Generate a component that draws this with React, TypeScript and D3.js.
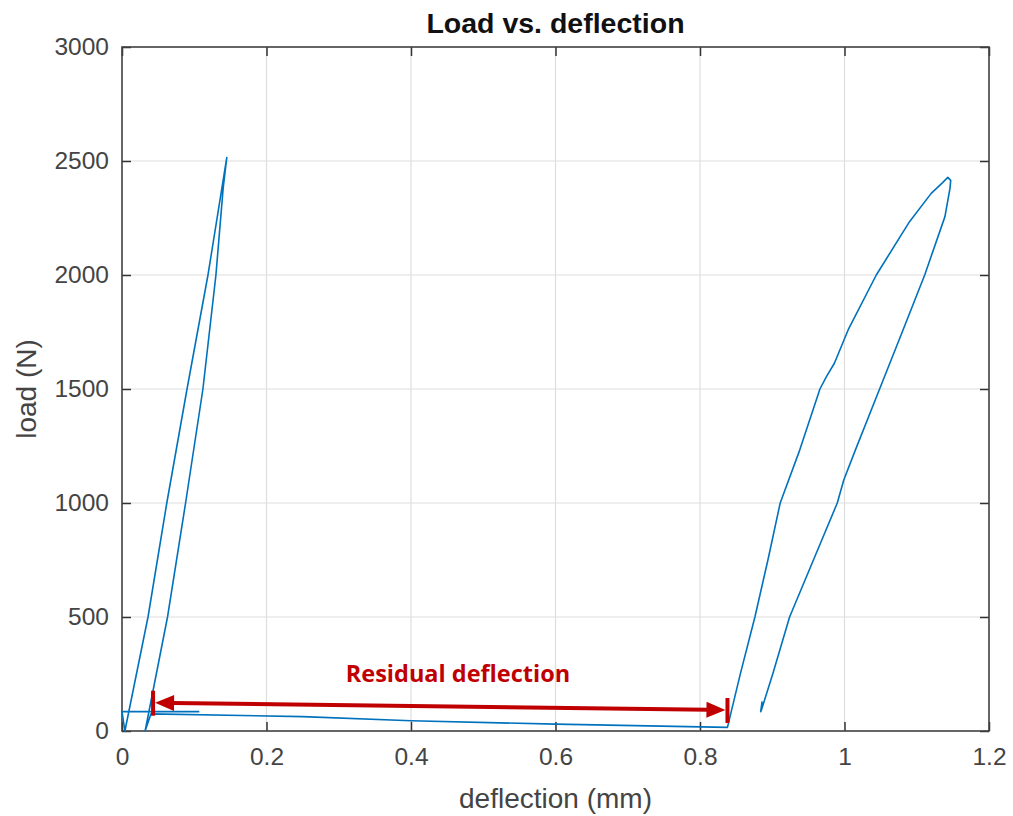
import React, { useRef, useEffect } from "react";
import { select, scaleLinear, axisBottom, axisLeft, axisTop, axisRight, line } from "d3";

// deflection (mm) / load (N), in drawing order
const deflection = [
  0.107, 0, 0.004, 0.036, 0.062, 0.09, 0.119, 0.145, 0.14, 0.13, 0.112, 0.088, 0.063, 0.032,
  0.04, 0.25, 0.4, 0.6, 0.838,
  0.856, 0.876, 0.894, 0.911, 0.938, 0.966, 0.975, 0.986, 1.005, 1.044, 1.09, 1.12, 1.134, 1.143, 1.147, 1.146,
  1.139, 1.111, 1.081, 1.049, 1.015, 0.999, 0.99, 0.957, 0.924, 0.901, 0.885, 0.884, 0.886,
];
const load = [
  85, 85, 0, 500, 1000, 1500, 2000, 2515, 2380, 2000, 1500, 1000, 500, 0,
  75, 63, 45, 30, 16,
  253, 500, 750, 1000, 1232, 1500, 1554, 1613, 1759, 2000, 2234, 2358, 2400, 2428, 2415, 2380,
  2256, 2000, 1759, 1503, 1232, 1101, 1000, 750, 500, 253, 92, 85, 130,
];

const xTicks = [0, 0.2, 0.4, 0.6, 0.8, 1, 1.2];
const yTicks = [0, 500, 1000, 1500, 2000, 2500, 3000];

// residual deflection annotation: [deflection, load] of both ends
const residualStart = [0.043, 124];
const residualEnd = [0.838, 92];
const residualLabel = "Residual deflection";

const width = 1013;
const height = 816;
const margin = { top: 47, right: 24, bottom: 85, left: 122 };

export default function App() {
  const svgRef = useRef(null);

  useEffect(() => {
    const svg = select(svgRef.current);
    svg.selectAll("*").remove();

    const innerWidth = width - margin.left - margin.right;
    const innerHeight = height - margin.top - margin.bottom;

    const xScale = scaleLinear().domain([0, 1.2]).range([0, innerWidth]);
    const yScale = scaleLinear().domain([0, 3000]).range([innerHeight, 0]);

    const g = svg.append("g").attr("transform", `translate(${margin.left} ${margin.top})`);

    // grid
    g.selectAll(".vgrid")
      .data(xTicks.slice(1, -1))
      .join("line")
      .attr("x1", (d) => xScale(d))
      .attr("x2", (d) => xScale(d))
      .attr("y1", 0)
      .attr("y2", innerHeight)
      .attr("stroke", "#dedede")
      .attr("stroke-width", 1.2);
    g.selectAll(".hgrid")
      .data(yTicks.slice(1, -1))
      .join("line")
      .attr("x1", 0)
      .attr("x2", innerWidth)
      .attr("y1", (d) => yScale(d))
      .attr("y2", (d) => yScale(d))
      .attr("stroke", "#dedede")
      .attr("stroke-width", 1.2);

    // axes, ticks pointing inward like matlab
    const fmt = (d) => String(d);
    const styleAxis = (sel, labels) => {
      sel.select(".domain").remove();
      sel.selectAll(".tick line").attr("stroke", "#333").attr("stroke-width", 1.5);
      sel
        .selectAll(".tick text")
        .attr("fill", "#444")
        .attr("font-size", 24.5)
        .style("display", labels ? null : "none");
    };

    g.append("g")
      .attr("transform", `translate(0 ${innerHeight})`)
      .call(axisBottom(xScale).tickValues(xTicks).tickFormat(fmt).tickSizeInner(-9).tickSizeOuter(0).tickPadding(17))
      .call((s) => styleAxis(s, true));
    g.append("g")
      .call(axisTop(xScale).tickValues(xTicks).tickSizeInner(-9).tickSizeOuter(0))
      .call((s) => styleAxis(s, false));
    g.append("g")
      .call(axisLeft(yScale).tickValues(yTicks).tickFormat(fmt).tickSizeInner(-9).tickSizeOuter(0).tickPadding(13))
      .call((s) => styleAxis(s, true));
    g.append("g")
      .attr("transform", `translate(${innerWidth} 0)`)
      .call(axisRight(yScale).tickValues(yTicks).tickSizeInner(-9).tickSizeOuter(0))
      .call((s) => styleAxis(s, false));

    g.selectAll(".tick text").attr("font-family", "'Liberation Sans', Arial, sans-serif");

    // box
    g.append("rect")
      .attr("width", innerWidth)
      .attr("height", innerHeight)
      .attr("fill", "none")
      .attr("stroke", "#404040")
      .attr("stroke-width", 1.6);

    // data line
    const pathGen = line()
      .x((d) => xScale(d[0]))
      .y((d) => yScale(d[1]));
    g.append("path")
      .datum(deflection.map((d, i) => [d, load[i]]))
      .attr("d", pathGen)
      .attr("fill", "none")
      .attr("stroke", "#0072BD")
      .attr("stroke-width", 1.6)
      .attr("stroke-linejoin", "round");

    // annotation
    const red = "#C00000";
    const x1 = xScale(residualStart[0]);
    const y1 = yScale(residualStart[1]);
    const x2 = xScale(residualEnd[0]);
    const y2 = yScale(residualEnd[1]);
    const ang = Math.atan2(y2 - y1, x2 - x1);
    const ann = g.append("g");
    const head = 19;
    const half = 8;
    ann.append("line")
      .attr("x1", x1 + Math.cos(ang) * head)
      .attr("y1", y1 + Math.sin(ang) * head)
      .attr("x2", x2 - Math.cos(ang) * head)
      .attr("y2", y2 - Math.sin(ang) * head)
      .attr("stroke", red)
      .attr("stroke-width", 4);
    const arrowHead = (tx, ty, dir) => {
      const bx = tx + dir * Math.cos(ang) * head;
      const by = ty + dir * Math.sin(ang) * head;
      const nx = -Math.sin(ang) * half;
      const ny = Math.cos(ang) * half;
      ann.append("path")
        .attr("d", `M${tx},${ty}L${bx + nx},${by + ny}L${bx - nx},${by - ny}Z`)
        .attr("fill", red);
    };
    arrowHead(x1 + 2, y1, 1);
    arrowHead(x2 - 2, y2, -1);
    [[x1, y1], [x2, y2]].forEach(([x, y]) => {
      ann.append("line")
        .attr("x1", x)
        .attr("x2", x)
        .attr("y1", y - 12)
        .attr("y2", y + 13)
        .attr("stroke", red)
        .attr("stroke-width", 4);
    });
    ann.append("text")
      .attr("x", xScale(0.465))
      .attr("y", yScale(215))
      .attr("text-anchor", "middle")
      .attr("fill", red)
      .attr("font-family", "'Open Sans', sans-serif")
      .attr("font-weight", 700)
      .attr("font-size", 23.5)
      .text(residualLabel);

    // titles
    svg.append("text")
      .attr("x", margin.left + innerWidth / 2)
      .attr("y", 33)
      .attr("text-anchor", "middle")
      .attr("font-family", "'Liberation Sans', Arial, sans-serif")
      .attr("font-weight", 700)
      .attr("font-size", 28.5)
      .attr("fill", "#111")
      .text("Load vs. deflection");
    svg.append("text")
      .attr("x", margin.left + innerWidth / 2)
      .attr("y", 808)
      .attr("text-anchor", "middle")
      .attr("font-family", "'Liberation Sans', Arial, sans-serif")
      .attr("font-size", 28)
      .attr("fill", "#444")
      .text("deflection (mm)");
    svg.append("text")
      .attr("transform", `translate(36 ${margin.top + innerHeight / 2}) rotate(-90)`)
      .attr("text-anchor", "middle")
      .attr("font-family", "'Liberation Sans', Arial, sans-serif")
      .attr("font-size", 28)
      .attr("fill", "#444")
      .text("load (N)");
  }, []);

  return (
    <svg
      ref={svgRef}
      width={width}
      height={height}
      style={{ position: "absolute", left: 0, top: 0, background: "#fff" }}
    />
  );
}
